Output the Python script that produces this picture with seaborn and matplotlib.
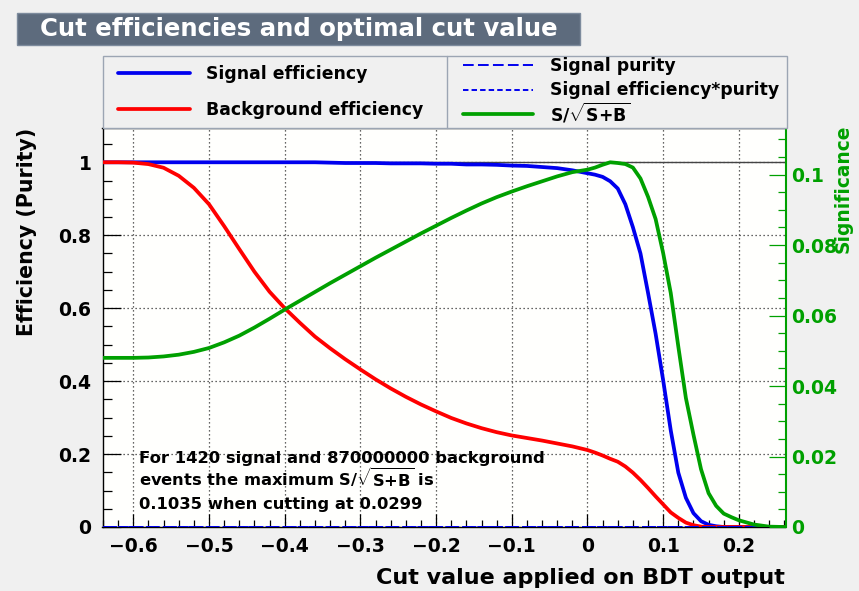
import matplotlib
matplotlib.use("Agg")
import matplotlib.pyplot as plt
from matplotlib.lines import Line2D
from matplotlib.patches import Rectangle
from matplotlib.ticker import MultipleLocator, FuncFormatter
import seaborn as sns

# ---- data -------------------------------------------------------------
cut = [-0.64, -0.62, -0.60, -0.58, -0.56, -0.54, -0.52, -0.50, -0.48, -0.46,
       -0.44, -0.42, -0.40, -0.38, -0.36, -0.34, -0.32, -0.30, -0.28, -0.26,
       -0.24, -0.22, -0.20, -0.18, -0.16, -0.14, -0.12, -0.10, -0.08, -0.06,
       -0.04, -0.02, 0.00, 0.01, 0.02, 0.03, 0.04, 0.05, 0.06, 0.07,
       0.08, 0.09, 0.10, 0.11, 0.12, 0.13, 0.14, 0.15, 0.16, 0.17,
       0.18, 0.19, 0.20, 0.22, 0.24, 0.26]

signal_eff = [1.000, 1.000, 1.000, 1.000, 1.000, 1.000, 1.000, 1.000, 1.000, 1.000,
              1.000, 1.000, 1.000, 1.000, 1.000, 0.999, 0.998, 0.998, 0.998, 0.997,
              0.997, 0.997, 0.996, 0.996, 0.994, 0.994, 0.993, 0.991, 0.990, 0.987,
              0.984, 0.978, 0.970, 0.966, 0.960, 0.948, 0.928, 0.885, 0.822, 0.750,
              0.642, 0.530, 0.402, 0.265, 0.149, 0.080, 0.038, 0.016, 0.006, 0.002,
              0.000, 0.000, 0.000, 0.000, 0.000, 0.000]

background_eff = [1.000, 1.000, 0.999, 0.995, 0.985, 0.963, 0.930, 0.885, 0.825, 0.762,
                  0.700, 0.645, 0.600, 0.560, 0.522, 0.490, 0.460, 0.432, 0.405, 0.380,
                  0.357, 0.336, 0.317, 0.299, 0.284, 0.271, 0.260, 0.251, 0.244, 0.237,
                  0.229, 0.221, 0.211, 0.204, 0.196, 0.187, 0.179, 0.166, 0.149, 0.129,
                  0.107, 0.084, 0.062, 0.040, 0.025, 0.012, 0.005, 0.001, 0.000, 0.000,
                  0.000, 0.000, 0.000, 0.000, 0.000, 0.000]

significance = [0.0480, 0.0480, 0.0480, 0.0481, 0.0484, 0.0489, 0.0497, 0.0508, 0.0524, 0.0543,
                0.0566, 0.0591, 0.0617, 0.0642, 0.0667, 0.0692, 0.0716, 0.0740, 0.0764, 0.0787,
                0.0810, 0.0833, 0.0855, 0.0877, 0.0898, 0.0918, 0.0936, 0.0952, 0.0967, 0.0981,
                0.0995, 0.1007, 0.1014, 0.1020, 0.1028, 0.1035, 0.1033, 0.1030, 0.1020, 0.0989,
                0.0937, 0.0874, 0.0777, 0.0664, 0.0512, 0.0366, 0.0262, 0.0164, 0.0096, 0.0060,
                0.0038, 0.0028, 0.0019, 0.0007, 0.0001, 0.0000]

purity_cut = [-0.64, 0.26]
signal_purity = [0.0, 0.0]
signal_eff_purity = [0.0, 0.0]

n_signal = 1420
n_background = 870000000
max_significance = 0.1035
optimal_cut = 0.0299

x_ticks = [-0.6, -0.5, -0.4, -0.3, -0.2, -0.1, 0.0, 0.1, 0.2]
eff_ticks = [0.0, 0.2, 0.4, 0.6, 0.8, 1.0]
sig_ticks = [0.0, 0.02, 0.04, 0.06, 0.08, 0.10]

# ---- style ------------------------------------------------------------
sns.set_theme(style="ticks")
plt.rcParams["font.family"] = ["DejaVu Sans"]
plt.rcParams["font.weight"] = "bold"
plt.rcParams["text.color"] = "black"
plt.rcParams["axes.labelcolor"] = "black"
plt.rcParams["xtick.color"] = "black"
plt.rcParams["ytick.color"] = "black"
plt.rcParams["mathtext.fontset"] = "custom"
plt.rcParams["mathtext.rm"] = "DejaVu Sans:bold"
plt.rcParams["mathtext.bf"] = "DejaVu Sans:bold"
plt.rcParams["mathtext.it"] = "DejaVu Sans:bold"
plt.rcParams["axes.unicode_minus"] = True

CANVAS = "#f0f0f0"
FRAME = "#fffffd"
TITLE_BOX = "#5D6B7D"
TITLE_BORDER = "#7D8B9D"
BLUE = "#0000ee"
RED = "#ff0000"
GREEN = "#00a000"
SQRT_SB = r"S/$\sqrt{\mathrm{S{+}B}}$"

W, H = 859, 591
fx = lambda px: px / W
fy = lambda py: 1 - py / H

fig = plt.figure(figsize=(W / 100, H / 100), dpi=100, facecolor=CANVAS)

x_lo, x_hi = -0.6407, 0.2616
eff_top = 1.094

ax = fig.add_axes([fx(102.5), fy(527), fx(785.5) - fx(102.5), fy(128) - fy(527)])
ax.set_facecolor(FRAME)
ax.set_xlim(x_lo, x_hi)
ax.set_ylim(0, eff_top)

# grid and reference line at efficiency 1
ax.set_xticks(x_ticks)
ax.set_yticks(eff_ticks)
ax.grid(True, which="major", linestyle=(0, (1, 2.2)), color="#333333", linewidth=0.9)
ax.axhline(1.0, color="#444444", linewidth=1.0, zorder=2)

# efficiency curves
sns.lineplot(x=cut, y=signal_eff, ax=ax, color=BLUE, linewidth=2.7,
             estimator=None, sort=False, legend=False, zorder=4)
sns.lineplot(x=cut, y=background_eff, ax=ax, color=RED, linewidth=2.7,
             estimator=None, sort=False, legend=False, zorder=4)
sns.lineplot(x=purity_cut, y=signal_purity, ax=ax, color=BLUE, linewidth=1.4,
             linestyle=(0, (5.5, 2.2)), estimator=None, sort=False, legend=False, zorder=4)
sns.lineplot(x=purity_cut, y=signal_eff_purity, ax=ax, color=BLUE, linewidth=1.4,
             linestyle=(0, (2.8, 1.6)), estimator=None, sort=False, legend=False, zorder=4)

fmt = FuncFormatter(lambda v, p: ("%g" % round(v, 3)).replace("-", "\u2212"))
ax.xaxis.set_major_formatter(fmt)
ax.yaxis.set_major_formatter(fmt)
ax.xaxis.set_minor_locator(MultipleLocator(0.02))
ax.yaxis.set_minor_locator(MultipleLocator(0.05))
ax.tick_params(axis="x", which="major", direction="in", length=9.5, width=0.9,
               color="black", labelcolor="black", labelsize=13.5, pad=7, top=False)
ax.tick_params(axis="x", which="minor", direction="in", length=5, width=0.9,
               color="black", top=False)
ax.tick_params(axis="y", which="major", direction="in", length=13, width=0.9,
               color="black", labelcolor="black", labelsize=13.5, pad=8, right=False)
ax.tick_params(axis="y", which="minor", direction="in", length=6.5, width=0.9,
               color="black", right=False)
ax.set_xlabel("")
ax.set_ylabel("")
for side in ("left", "bottom", "top"):
    ax.spines[side].set_color("black")
    ax.spines[side].set_linewidth(1.0)
ax.spines["right"].set_visible(False)

# significance on its own scale
ax2 = ax.twinx()
ax2.set_ylim(0, eff_top * max_significance)
sns.lineplot(x=cut, y=significance, ax=ax2, color=GREEN, linewidth=2.7,
             estimator=None, sort=False, legend=False, zorder=4)
ax2.set_yticks(sig_ticks)
ax2.yaxis.set_major_formatter(FuncFormatter(lambda v, p: "%g" % round(v, 3)))
ax2.yaxis.set_minor_locator(MultipleLocator(0.005))
ax2.tick_params(axis="y", which="major", direction="in", length=12, width=0.9,
                color=GREEN, labelcolor=GREEN, labelsize=13.5, pad=4)
ax2.tick_params(axis="y", which="minor", direction="in", length=6, width=0.9,
                color=GREEN)
ax2.set_ylabel("")
for side in ("left", "bottom", "top"):
    ax2.spines[side].set_visible(False)
ax2.spines["right"].set_color(GREEN)
ax2.spines["right"].set_linewidth(1.5)

# axis titles
fig.text(fx(785), fy(584), "Cut value applied on BDT output", ha="right", va="baseline",
         fontsize=16, fontweight="bold", color="black")
fig.text(fx(27), fy(128), "Efficiency (Purity)", rotation=90, ha="center", va="top",
         fontsize=14.8, fontweight="bold", color="black")
fig.text(fx(843), fy(125), "Significance", rotation=90, ha="center", va="top",
         fontsize=13.4, fontweight="bold", color=GREEN)

# optimal cut summary
ax.text(-0.592, 0.1755, f"For {n_signal} signal and {n_background} background",
        fontsize=11.8, fontweight="bold", va="baseline", color="black", zorder=6)
ax.text(-0.592, 0.1124, f"events the maximum {SQRT_SB} is",
        fontsize=11.8, fontweight="bold", va="baseline", color="black", zorder=6)
ax.text(-0.592, 0.0494, f"{max_significance:.4f} when cutting at {optimal_cut:.4f}",
        fontsize=11.8, fontweight="bold", va="baseline", color="black", zorder=6)

# title box
fig.add_artist(Rectangle((fx(17), fy(45)), fx(580) - fx(17), fy(13) - fy(45),
                         transform=fig.transFigure, facecolor=TITLE_BOX,
                         edgecolor=TITLE_BORDER, linewidth=1.0))
fig.text(fx(40), fy(29), "Cut efficiencies and optimal cut value", ha="left", va="center",
         fontsize=17.6, fontweight="bold", color="white")

# legend box
fig.add_artist(Rectangle((fx(102.5), fy(128)), fx(787) - fx(102.5), fy(56) - fy(128),
                         transform=fig.transFigure, facecolor=CANVAS,
                         edgecolor="#9ca5b3", linewidth=1.0))
fig.add_artist(Line2D([fx(447.5), fx(447.5)], [fy(56), fy(128)], transform=fig.transFigure,
                      color="#9ca5b3", linewidth=1.0))

legend_entries = [
    (118, 190, 73, 206, 74, "Signal efficiency", BLUE, "-", 2.7),
    (118, 190, 109, 206, 110, "Background efficiency", RED, "-", 2.7),
    (463, 533, 65, 550, 66, "Signal purity", BLUE, (0, (5.5, 2.2)), 1.4),
    (463, 533, 90, 550, 90, "Signal efficiency*purity", BLUE, (0, (2.8, 1.6)), 1.4),
    (463, 533, 114, 550, 113, SQRT_SB, GREEN, "-", 2.7),
]
for x0, x1, yl, xt, yt, label, col, ls, lw in legend_entries:
    fig.add_artist(Line2D([fx(x0), fx(x1)], [fy(yl), fy(yl)], transform=fig.transFigure,
                          color=col, linestyle=ls, linewidth=lw))
    fig.text(fx(xt), fy(yt), label, ha="left", va="center", fontsize=12.4,
             fontweight="bold", color="black")

fig.savefig("out.png", dpi=100, facecolor=CANVAS)
